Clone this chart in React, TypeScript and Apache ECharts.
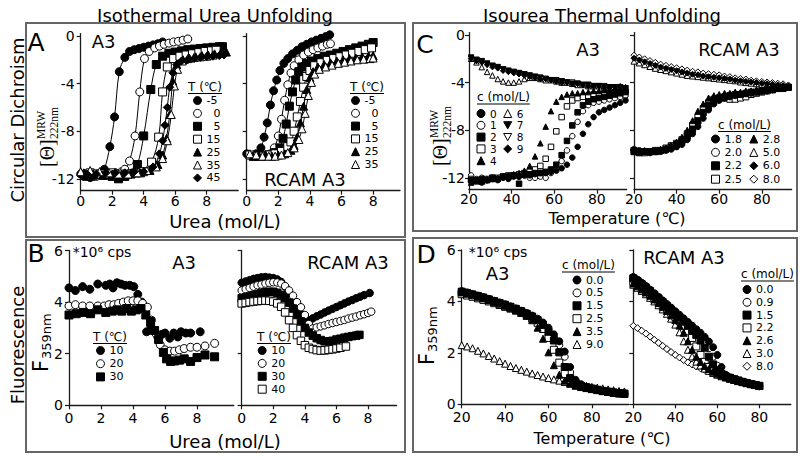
import React, { useEffect, useRef } from "react";
import * as echarts from "echarts";

const FONT = "'DejaVu Sans', Verdana, sans-serif";
const SERIF = "'Liberation Serif', 'DejaVu Serif', serif";

// ---------------- Panel A: CD vs urea (x = urea mol/L, y = [Θ]) ----------------
const a3T_m5 = [[0,-11.6],[0.2,-11.8],[0.4,-11.8],[0.6,-11.9],[0.8,-11.8],[1.0,-11.7],[1.2,-11.7],[1.5,-11.2],[1.85,-9.3],[2.15,-6.8],[2.45,-3.0],[2.8,-1.8],[3.1,-1.3],[3.4,-1.15],[3.7,-1.05],[4.0,-0.95],[4.3,-0.85],[4.6,-0.75],[4.9,-0.65],[5.2,-0.5]];
const a3T_0 = [[0.2,-11.6],[0.6,-11.7],[1.0,-11.8],[1.4,-11.7],[1.8,-11.6],[2.2,-11.5],[2.6,-11.4],[2.8,-11.2],[3.1,-10.5],[3.45,-8.4],[3.75,-4.7],[4.05,-1.9],[4.35,-1.3],[4.7,-1.0],[5.0,-0.85],[5.3,-0.7],[5.6,-0.6],[5.9,-0.5],[6.2,-0.45],[6.5,-0.35],[6.8,-0.25]];
const a3T_5 = [[0.4,-11.6],[0.8,-11.7],[1.2,-11.6],[1.6,-11.7],[2.0,-11.8],[2.4,-12.0],[2.8,-11.8],[3.2,-11.6],[3.6,-10.8],[4.0,-8.4],[4.45,-4.5],[4.8,-2.4],[5.2,-1.7],[5.6,-1.45],[6.0,-1.35],[6.4,-1.25],[6.8,-1.15],[7.2,-1.1],[7.6,-1.05],[8.0,-1.0],[8.4,-0.95],[8.8,-0.9],[9.0,-0.9]];
const a3T_15 = [[0.6,-11.5],[1.0,-11.6],[1.5,-11.6],[2.0,-11.5],[2.5,-11.6],[3.0,-11.6],[3.5,-11.5],[4.0,-11.4],[4.5,-10.6],[4.95,-8.5],[5.2,-4.7],[5.5,-2.6],[5.9,-1.9],[6.3,-1.7],[6.7,-1.6],[7.1,-1.5],[7.5,-1.4],[7.9,-1.3],[8.3,-1.25],[8.6,-1.2]];
const a3T_25 = [[0.2,-11.5],[0.8,-11.6],[1.4,-11.7],[2.0,-11.6],[2.6,-11.6],[3.2,-11.5],[3.8,-11.5],[4.4,-11.3],[4.9,-10.8],[5.2,-10.0],[5.45,-8.6],[5.65,-6.6],[5.85,-3.8],[6.1,-2.4],[6.5,-2.0],[6.9,-1.85],[7.3,-1.75],[7.7,-1.65],[8.1,-1.6],[8.5,-1.5],[8.9,-1.4],[9.25,-1.35]];
const a3T_35 = [[0.0,-11.4],[0.6,-11.3],[1.2,-11.4],[1.8,-11.5],[2.4,-11.6],[3.0,-11.6],[3.6,-11.5],[4.2,-11.3],[4.8,-11.0],[5.2,-10.3],[5.5,-8.8],[5.75,-6.6],[5.95,-4.2],[6.15,-2.8],[6.45,-2.1],[6.8,-1.9],[7.2,-1.8],[7.6,-1.75],[8.0,-1.7],[8.4,-1.6]];
const a3T_45 = [[0.4,-11.6],[1.0,-11.6],[1.6,-11.5],[2.2,-11.5],[2.8,-11.5],[3.4,-11.4],[4.0,-11.4],[4.6,-11.0],[5.0,-9.9],[5.2,-8.8],[5.35,-7.5],[5.5,-6.0],[5.65,-4.3],[5.85,-3.1],[6.1,-2.4],[6.4,-2.1],[6.8,-2.0],[7.2,-1.9],[7.6,-1.8],[8.0,-1.75],[8.4,-1.7],[8.8,-1.65],[9.1,-1.6]];

const rcT_m5 = [[0.0,-9.9],[0.3,-10.1],[0.6,-9.9],[0.9,-9.4],[1.1,-8.5],[1.3,-7.3],[1.5,-5.8],[1.7,-4.6],[1.9,-3.7],[2.1,-2.9],[2.35,-2.3],[2.6,-1.9],[2.9,-1.5],[3.2,-1.2],[3.5,-0.9],[3.8,-0.7],[4.1,-0.5],[4.4,-0.35],[4.7,-0.2],[5.0,-0.05],[5.25,0.1]];
const rcT_0 = [[0.6,-10.1],[0.9,-10.1],[1.2,-10.0],[1.5,-9.9],[1.75,-9.4],[2.0,-8.4],[2.2,-7.0],[2.4,-5.4],[2.6,-4.1],[2.8,-3.1],[3.0,-2.5],[3.3,-2.0],[3.6,-1.6],[3.9,-1.35],[4.2,-1.15],[4.5,-1.0],[4.8,-0.85],[5.1,-0.7],[5.3,-0.65]];
const rcT_5 = [[1.0,-10.1],[1.4,-10.0],[1.8,-9.8],[2.1,-9.4],[2.3,-8.6],[2.5,-7.4],[2.7,-5.9],[2.9,-4.7],[3.1,-3.7],[3.3,-3.0],[3.5,-2.6],[3.8,-2.3],[4.1,-2.1],[4.5,-1.9],[4.9,-1.7],[5.3,-1.6],[5.7,-1.45],[6.1,-1.3],[6.5,-1.15],[6.9,-1.0],[7.3,-0.85],[7.7,-0.7],[8.0,-0.55]];
const rcT_15 = [[0.2,-10.0],[0.6,-10.1],[1.0,-10.1],[1.4,-10.0],[1.8,-9.9],[2.2,-9.7],[2.6,-9.3],[2.8,-8.9],[3.0,-8.0],[3.2,-6.8],[3.4,-5.5],[3.6,-4.3],[3.8,-3.4],[4.0,-2.9],[4.3,-2.5],[4.7,-2.25],[5.1,-2.05],[5.5,-1.9],[5.9,-1.75],[6.3,-1.6],[6.7,-1.45],[7.1,-1.3],[7.5,-1.15],[7.9,-1.0]];
const rcT_25 = [[0.4,-10.1],[0.8,-10.1],[1.2,-10.0],[1.6,-10.1],[2.0,-10.0],[2.4,-9.9],[2.8,-9.6],[3.0,-9.2],[3.2,-8.5],[3.4,-7.3],[3.6,-5.9],[3.8,-4.5],[4.0,-3.5],[4.2,-3.0],[4.5,-2.6],[4.9,-2.4],[5.3,-2.25],[5.7,-2.1],[6.1,-2.0],[6.5,-1.9],[6.9,-1.85],[7.3,-1.75],[7.7,-1.7],[8.0,-1.65]];
const rcT_35 = [[0.2,-9.9],[0.6,-10.0],[1.0,-10.1],[1.4,-10.1],[1.8,-10.1],[2.2,-10.0],[2.6,-9.8],[3.0,-9.4],[3.3,-8.7],[3.5,-7.8],[3.7,-6.5],[3.9,-5.0],[4.1,-3.9],[4.3,-3.2],[4.6,-2.8],[5.0,-2.6],[5.4,-2.45],[5.8,-2.3],[6.2,-2.2],[6.6,-2.1],[7.0,-2.0],[7.4,-1.95],[7.8,-1.9],[8.0,-1.85]];

// ---------------- Panel B: fluorescence vs urea ----------------
const fA3_10 = [[0,4.55],[0.4,4.45],[0.85,4.6],[1.3,4.5],[1.8,4.7],[2.3,4.65],[2.55,4.7],[2.75,4.55],[3.0,4.75],[3.25,4.7],[3.5,4.65],[3.8,4.65],[4.05,4.6],[4.3,4.3],[4.55,4.0],[4.85,2.85],[5.1,3.1],[5.35,2.85],[5.55,2.65],[5.8,2.75],[6.0,2.8],[6.3,2.6],[6.55,2.8],[6.8,2.65],[7.0,2.85],[7.3,2.8],[7.6,2.8],[8.2,2.85]];
const fA3_20 = [[0,3.85],[0.4,3.9],[0.85,3.85],[1.3,3.85],[1.8,3.85],[2.2,3.85],[2.5,3.9],[2.8,3.9],[3.1,3.95],[3.4,4.0],[3.7,4.05],[4.0,4.05],[4.3,4.05],[4.6,3.95],[4.9,3.8],[5.15,3.3],[5.4,2.8],[5.7,2.35],[6.0,2.15],[6.3,2.1],[6.6,2.1],[6.9,2.15],[7.2,2.2],[7.6,2.25],[8.0,2.25],[8.5,2.3],[9.1,2.4]];
const fA3_30 = [[0,3.5],[0.45,3.55],[0.9,3.6],[1.35,3.55],[1.8,3.7],[2.3,3.6],[2.7,3.65],[3.0,3.7],[3.3,3.65],[3.6,3.75],[3.9,3.65],[4.2,3.7],[4.5,3.75],[4.8,3.5],[5.1,3.25],[5.35,2.9],[5.6,2.55],[5.9,2.05],[6.1,1.8],[6.35,1.7],[6.6,1.72],[6.9,1.75],[7.2,1.8],[7.6,1.7],[8.0,1.85],[8.5,1.95],[9.1,1.88]];
const fRC_10 = [[0,4.75],[0.25,4.8],[0.5,4.85],[0.75,4.9],[1.0,4.93],[1.25,4.96],[1.5,4.97],[1.75,4.95],[2.0,4.93],[2.25,4.88],[2.5,4.78],[2.75,4.6],[3.0,4.35],[3.25,4.05],[3.5,3.8],[3.75,3.55],[4.0,3.4],[4.25,3.3],[4.5,3.37],[4.75,3.45],[5.0,3.52],[5.25,3.6],[5.5,3.67],[5.75,3.74],[6.0,3.81],[6.25,3.88],[6.5,3.95],[6.75,4.02],[7.0,4.08],[7.25,4.15],[7.5,4.21],[7.75,4.27],[8.1,4.35]];
const fRC_20 = [[0,4.45],[0.25,4.5],[0.5,4.55],[0.75,4.6],[1.0,4.65],[1.25,4.68],[1.5,4.72],[1.75,4.75],[2.0,4.77],[2.25,4.76],[2.5,4.72],[2.75,4.62],[3.0,4.45],[3.25,4.25],[3.5,4.0],[3.75,3.8],[4.0,3.5],[4.25,3.15],[4.5,2.98],[4.75,3.02],[5.0,3.06],[5.25,3.1],[5.5,3.15],[5.75,3.19],[6.0,3.23],[6.25,3.27],[6.5,3.31],[6.75,3.36],[7.0,3.4],[7.25,3.44],[7.5,3.49],[7.75,3.53],[8.0,3.58],[8.2,3.63]];
const fRC_30 = [[0,4.15],[0.25,4.18],[0.5,4.22],[0.75,4.26],[1.0,4.3],[1.25,4.35],[1.5,4.38],[1.75,4.4],[2.0,4.4],[2.25,4.36],[2.5,4.28],[2.75,4.15],[3.0,3.98],[3.25,3.75],[3.5,3.5],[3.75,3.25],[4.0,3.0],[4.25,2.82],[4.5,2.7],[4.75,2.6],[5.0,2.53],[5.25,2.48],[5.5,2.48],[5.75,2.5],[6.0,2.55],[6.25,2.58],[6.5,2.62],[6.75,2.65],[7.0,2.68],[7.25,2.7],[7.45,2.73]];
const fRC_40 = [[0,3.95],[0.25,3.97],[0.5,4.0],[0.75,4.02],[1.0,4.04],[1.25,4.05],[1.5,4.06],[1.75,4.05],[2.0,4.02],[2.25,3.95],[2.5,3.82],[2.75,3.6],[3.0,3.3],[3.25,3.0],[3.5,2.72],[3.75,2.5],[4.0,2.33],[4.25,2.23],[4.5,2.18],[4.75,2.14],[5.0,2.12],[5.25,2.13],[5.5,2.15],[5.75,2.17],[6.0,2.2],[6.25,2.23],[6.6,2.28]];

// ---------------- Panel C: CD vs temperature ----------------
const tempC_A3 = [21,23.5,26,28.5,31,33.5,36,38.5,41,43.5,46,48.5,51,53.5,56,58.5,61,63.5,66,68.5,71,73.5,76,78.5,81,83.5,86,88.5,91,93.5];
const cdA3_c0 = [-12.3,-12.2,-12.4,-12.2,-12.1,-12.2,-12.0,-12.1,-11.9,-11.9,-11.8,-11.8,-11.7,-11.6,-11.6,-11.5,-11.4,-11.2,-10.9,-10.3,-9.4,-8.3,-7.5,-6.9,-6.5,-6.3,-6.1,-5.9,-5.7,-5.5];
const cdA3_c1 = [-11.8,-12.1,-12.0,-12.2,-12.0,-12.1,-11.9,-12.0,-11.8,-11.9,-11.8,-12.0,-12.0,-11.9,-12.0,-11.6,-11.2,-10.6,-9.7,-8.5,-7.3,-6.4,-5.9,-5.7,-5.6,-5.5,-5.4,-5.3,-5.2,-5.1];
const cdA3_c2 = [-12.2,-12.3,-12.1,-12.2,-12.0,-12.1,-11.9,-11.9,-11.8,-12.5,-11.7,-11.7,-11.6,-11.6,-11.5,-11.3,-10.9,-10.1,-8.9,-7.6,-6.5,-5.9,-5.6,-5.4,-5.3,-5.2,-5.1,-5.0,-4.9,-4.8];
const cdA3_c3 = [-12.1,-12.2,-12.3,-12.1,-12.0,-12.0,-11.9,-11.8,-11.8,-11.7,-11.6,-11.5,-11.3,-11.0,-10.4,-9.4,-8.1,-6.9,-6.0,-5.5,-5.3,-5.2,-5.1,-5.0,-5.0,-4.9,-4.9,-4.8,-4.7,-4.7];
const cdA3_c4 = [-12.4,-12.2,-12.3,-12.1,-12.1,-12.0,-11.9,-11.8,-11.7,-11.6,-11.4,-11.0,-10.2,-9.1,-7.7,-6.4,-5.6,-5.2,-5.0,-4.9,-4.9,-4.8,-4.8,-4.7,-4.7,-4.6,-4.6,-4.5,-4.5,-4.4];
const cdA3_c6 = [-2.0,-2.3,-2.7,-3.1,-3.4,-3.7,-3.9,-4.0,-4.0,-3.9,-3.7,-3.6,-3.6,-3.7,-3.8,-3.8,-3.9,-4.0,-4.0,-4.1,-4.2,-4.2,-4.3,-4.3,-4.3,-4.4,-4.4,-4.5,-4.5,-4.5];
const cdA3_c7 = [-1.9,-2.1,-2.2,-2.4,-2.6,-2.7,-2.9,-3.0,-3.1,-3.2,-3.3,-3.4,-3.5,-3.6,-3.7,-3.8,-3.9,-3.9,-4.0,-4.1,-4.1,-4.2,-4.2,-4.3,-4.3,-4.4,-4.4,-4.4,-4.5,-4.5];
const cdA3_c8 = [-2.0,-2.1,-2.3,-2.5,-2.6,-2.8,-2.9,-3.1,-3.2,-3.3,-3.4,-3.5,-3.6,-3.6,-3.7,-3.8,-3.8,-3.9,-4.0,-4.0,-4.1,-4.2,-4.2,-4.3,-4.3,-4.3,-4.4,-4.4,-4.4,-4.5];
const cdA3_c9 = [-2.0,-2.2,-2.3,-2.5,-2.7,-2.8,-3.0,-3.1,-3.2,-3.3,-3.4,-3.5,-3.6,-3.7,-3.7,-3.8,-3.9,-4.0,-4.0,-4.1,-4.1,-4.2,-4.3,-4.3,-4.3,-4.4,-4.4,-4.4,-4.3,-4.4];

const tempC_RC = [20,22.5,25,27.5,30,32.5,35,37.5,40,42.5,45,47.5,50,52.5,55,57.5,60,62.5,65,67.5,70,72.5,75,77.5,80,82.5,85,87.5,90,92.5];
const cdRC_18 = [-9.7,-9.8,-9.8,-9.9,-9.8,-9.8,-9.7,-9.6,-9.4,-9.2,-8.8,-8.3,-7.7,-7.0,-6.3,-5.8,-5.5,-5.3,-5.2,-5.1,-5.0,-4.95,-4.9,-4.8,-4.75,-4.7,-4.6,-4.5,-4.45,-4.4];
const cdRC_20 = [-9.6,-9.7,-9.8,-9.8,-9.7,-9.7,-9.6,-9.5,-9.3,-9.0,-8.6,-8.1,-7.4,-6.7,-6.1,-5.7,-5.4,-5.3,-5.2,-5.2,-5.1,-5.0,-4.9,-4.8,-4.7,-4.7,-4.6,-4.5,-4.4,-4.4];
const cdRC_22 = [-9.8,-9.9,-9.8,-9.8,-9.8,-9.7,-9.6,-9.4,-9.2,-8.9,-8.5,-7.9,-7.2,-6.5,-5.9,-5.5,-5.3,-5.2,-5.1,-5.0,-5.0,-4.9,-4.8,-4.8,-4.7,-4.6,-4.6,-4.5,-4.4,-4.4];
const cdRC_25 = [-9.7,-9.8,-9.9,-9.8,-9.7,-9.7,-9.5,-9.3,-9.1,-8.8,-8.3,-7.6,-6.9,-6.2,-5.7,-5.4,-5.3,-5.3,-5.4,-5.4,-5.3,-5.2,-5.0,-4.9,-4.8,-4.7,-4.6,-4.5,-4.5,-4.4];
const cdRC_28 = [-9.8,-9.8,-9.7,-9.8,-9.8,-9.6,-9.5,-9.3,-9.0,-8.6,-8.0,-7.2,-6.4,-5.8,-5.3,-5.1,-5.0,-4.9,-4.9,-4.8,-4.8,-4.7,-4.7,-4.6,-4.6,-4.5,-4.5,-4.4,-4.4,-4.3];
const cdRC_50 = [-2.2,-2.35,-2.5,-2.65,-2.8,-2.9,-3.0,-3.1,-3.2,-3.3,-3.4,-3.45,-3.5,-3.55,-3.6,-3.65,-3.7,-3.75,-3.8,-3.85,-3.95,-4.0,-4.05,-4.1,-4.15,-4.2,-4.2,-4.25,-4.3,-4.3];
const cdRC_60 = [-1.95,-2.1,-2.25,-2.4,-2.55,-2.7,-2.8,-2.9,-3.0,-3.1,-3.2,-3.3,-3.35,-3.45,-3.5,-3.55,-3.6,-3.65,-3.7,-3.8,-3.85,-3.9,-3.95,-4.0,-4.05,-4.1,-4.15,-4.2,-4.25,-4.3];
const cdRC_80 = [-1.7,-1.85,-2.0,-2.15,-2.3,-2.45,-2.55,-2.65,-2.75,-2.85,-2.95,-3.05,-3.1,-3.2,-3.25,-3.3,-3.35,-3.45,-3.5,-3.6,-3.65,-3.7,-3.8,-3.85,-3.9,-3.95,-4.0,-4.05,-4.1,-4.2];

// ---------------- Panel D: fluorescence vs temperature ----------------
const tempD_A3 = [20,22.5,25,27.5,30,32.5,35,37.5,40,42.5,45,47.5,50,52.5,55,57.5,60,62.5,65,67.5,70,72.5,75,77.5,80,82.5,85,87.5,90,92.5,95];
const flA3_00 = [4.40,4.35,4.29,4.23,4.17,4.10,4.03,3.96,3.89,3.81,3.73,3.64,3.55,3.45,3.33,3.18,2.98,2.72,2.45,2.05,1.45,0.95,0.78,0.68,0.62,0.57,0.53,0.49,0.45,0.42,0.40];
const flA3_05 = [4.30,4.25,4.20,4.14,4.08,4.02,3.95,3.88,3.81,3.74,3.66,3.58,3.49,3.39,3.27,3.11,2.90,2.62,2.30,1.85,1.25,0.88,0.75,0.67,0.61,0.57,0.53,0.50,0.47,0.44,0.42];
const flA3_15 = [4.38,4.33,4.27,4.21,4.15,4.08,4.01,3.94,3.87,3.79,3.71,3.62,3.52,3.41,3.27,3.08,2.82,2.48,2.02,1.45,1.02,0.82,0.72,0.66,0.61,0.56,0.52,0.48,0.45,0.42,0.40];
const flA3_25 = [4.28,4.23,4.18,4.12,4.06,4.00,3.93,3.86,3.79,3.72,3.64,3.55,3.45,3.33,3.17,2.93,2.58,2.12,1.62,1.18,0.92,0.78,0.70,0.65,0.60,0.56,0.52,0.49,0.46,0.44,0.42];
const flA3_35 = [4.35,4.30,4.24,4.18,4.12,4.05,3.98,3.91,3.83,3.75,3.66,3.56,3.44,3.27,2.98,2.55,2.02,1.52,1.15,0.92,0.80,0.72,0.67,0.63,0.59,0.55,0.51,0.48,0.45,0.43,0.41];
const flA3_90 = [2.30,2.25,2.18,2.08,1.98,1.88,1.78,1.68,1.58,1.49,1.41,1.34,1.27,1.20,1.14,1.08,1.02,0.97,0.92,0.87,0.82,0.78,0.75,0.72,0.68,0.65,0.62,0.58,0.55,0.52,0.50];

const tempD_RC = [20,22,24,26,28,30,32,34,36,38,40,42,44,46,48,50,52,54,56,58,60,62,64,66,68,70,72,74,76,78,80];
const flRC_00 = [4.95,4.85,4.73,4.60,4.46,4.32,4.18,4.04,3.90,3.76,3.62,3.48,3.34,3.20,3.06,2.92,2.78,2.62,2.44,2.22,1.92,1.45,1.15,1.05,0.98,0.92,0.87,0.83,0.78,0.74,0.70];
const flRC_09 = [4.85,4.75,4.63,4.50,4.37,4.23,4.09,3.95,3.81,3.67,3.53,3.39,3.25,3.10,2.95,2.79,2.62,2.42,2.18,1.85,1.50,1.25,1.10,1.03,0.97,0.92,0.87,0.83,0.79,0.75,0.71];
const flRC_15 = [4.90,4.79,4.67,4.54,4.40,4.26,4.12,3.97,3.82,3.67,3.52,3.37,3.21,3.05,2.88,2.70,2.48,2.20,1.85,1.55,1.32,1.18,1.09,1.03,0.97,0.92,0.87,0.83,0.79,0.75,0.71];
const flRC_22 = [4.75,4.64,4.52,4.40,4.27,4.14,4.00,3.86,3.71,3.56,3.40,3.23,3.05,2.84,2.58,2.25,1.92,1.65,1.45,1.32,1.22,1.14,1.08,1.02,0.97,0.92,0.87,0.83,0.79,0.75,0.72];
const flRC_26 = [4.70,4.59,4.47,4.35,4.22,4.08,3.94,3.79,3.63,3.46,3.28,3.06,2.78,2.45,2.12,1.85,1.65,1.49,1.37,1.27,1.19,1.12,1.06,1.01,0.96,0.91,0.87,0.83,0.79,0.75,0.72];
const flRC_30 = [4.65,4.53,4.41,4.28,4.14,4.00,3.85,3.69,3.52,3.33,3.10,2.80,2.45,2.12,1.86,1.66,1.51,1.39,1.30,1.22,1.15,1.09,1.04,0.99,0.95,0.90,0.86,0.82,0.78,0.75,0.72];
const flRC_80 = [3.05,2.96,2.86,2.75,2.63,2.51,2.39,2.27,2.15,2.03,1.92,1.82,1.72,1.63,1.55,1.47,1.40,1.34,1.28,1.23,1.18,1.13,1.08,1.03,0.98,0.94,0.89,0.85,0.81,0.78,0.75];

// ---------------- tick values ----------------
const ureaTicks = [0, 2, 4, 6, 8];
const tempTicks = [20, 40, 60, 80];
const cdTicks = [-12, -8, -4, 0];
const flTicks = [0, 2, 4, 6];

const zip = (xs: number[], ys: number[]) => xs.map((x, i) => [x, ys[i]]);

type SymKey = "fc" | "oc" | "fs" | "os" | "ft" | "ot" | "fd" | "od" | "fv" | "ov";
const DOWN = "path://M0,0L10,0L5,9Z";
const SYMS: Record<SymKey, { symbol: string; fill: boolean; rotate: number; icon: string }> = {
  fc: { symbol: "circle", fill: true, rotate: 0, icon: "circle" },
  oc: { symbol: "circle", fill: false, rotate: 0, icon: "circle" },
  fs: { symbol: "rect", fill: true, rotate: 0, icon: "rect" },
  os: { symbol: "rect", fill: false, rotate: 0, icon: "rect" },
  ft: { symbol: "triangle", fill: true, rotate: 0, icon: "triangle" },
  ot: { symbol: "triangle", fill: false, rotate: 0, icon: "triangle" },
  fd: { symbol: "diamond", fill: true, rotate: 0, icon: "diamond" },
  od: { symbol: "diamond", fill: false, rotate: 0, icon: "diamond" },
  fv: { symbol: "triangle", fill: true, rotate: 180, icon: DOWN },
  ov: { symbol: "triangle", fill: false, rotate: 180, icon: DOWN },
};

type Spec = [string, SymKey, number[][]];

// grid index: 0 A-A3, 1 A-RCAM, 2 B-A3, 3 B-RCAM, 4 C-A3, 5 C-RCAM, 6 D-A3, 7 D-RCAM
const panelA1: Spec[] = [["-5", "fc", a3T_m5], ["\u20070", "oc", a3T_0], ["\u20075", "fs", a3T_5], ["15", "os", a3T_15], ["25", "ft", a3T_25], ["35", "ot", a3T_35], ["45", "fd", a3T_45]];
const panelA2: Spec[] = [["-5", "fc", rcT_m5], ["\u20070", "oc", rcT_0], ["\u20075", "fs", rcT_5], ["15", "os", rcT_15], ["25", "ft", rcT_25], ["35", "ot", rcT_35]];
const panelB1: Spec[] = [["10", "fc", fA3_10], ["20", "oc", fA3_20], ["30", "fs", fA3_30]];
const panelB2: Spec[] = [["10", "fc", fRC_10], ["20", "oc", fRC_20], ["30", "fs", fRC_30], ["40", "os", fRC_40]];
const panelC1: Spec[] = [
  ["6", "ot", zip(tempC_A3, cdA3_c6)], ["8", "ov", zip(tempC_A3, cdA3_c8)], ["7", "fv", zip(tempC_A3, cdA3_c7)], ["9", "fd", zip(tempC_A3, cdA3_c9)],
  ["1", "oc", zip(tempC_A3, cdA3_c1)], ["3", "os", zip(tempC_A3, cdA3_c3)], ["0", "fc", zip(tempC_A3, cdA3_c0)], ["2", "fs", zip(tempC_A3, cdA3_c2)], ["4", "ft", zip(tempC_A3, cdA3_c4)],
];
const panelC2: Spec[] = [
  ["8.0", "od", zip(tempC_RC, cdRC_80)], ["5.0", "ot", zip(tempC_RC, cdRC_50)], ["6.0", "fd", zip(tempC_RC, cdRC_60)],
  ["2.0", "oc", zip(tempC_RC, cdRC_20)], ["2.5", "os", zip(tempC_RC, cdRC_25)], ["1.8", "fc", zip(tempC_RC, cdRC_18)], ["2.2", "fs", zip(tempC_RC, cdRC_22)], ["2.8", "ft", zip(tempC_RC, cdRC_28)],
];
const panelD1: Spec[] = [
  ["9.0", "ot", zip(tempD_A3, flA3_90)], ["0.5", "oc", zip(tempD_A3, flA3_05)], ["2.5", "os", zip(tempD_A3, flA3_25)],
  ["3.5", "ft", zip(tempD_A3, flA3_35)], ["1.5", "fs", zip(tempD_A3, flA3_15)], ["0.0", "fc", zip(tempD_A3, flA3_00)],
];
const panelD2: Spec[] = [
  ["8.0", "od", zip(tempD_RC, flRC_80)], ["3.0", "ot", zip(tempD_RC, flRC_30)], ["2.2", "os", zip(tempD_RC, flRC_22)], ["0.9", "oc", zip(tempD_RC, flRC_09)],
  ["2.6", "ft", zip(tempD_RC, flRC_26)], ["1.5", "fs", zip(tempD_RC, flRC_15)], ["0.0", "fc", zip(tempD_RC, flRC_00)],
];

function measure(text: string, size: number, family = FONT) {
  const c = document.createElement("canvas").getContext("2d");
  if (!c) return text.length * size * 0.6;
  c.font = `${size}px ${family}`;
  return c.measureText(text).width;
}

function buildOption() {
  const grids = [
    { left: 80.7, top: 33.6, width: 157.5, height: 157.1 },
    { left: 246.7, top: 33.6, width: 153.3, height: 157.1 },
    { left: 69, top: 250.5, width: 164.8, height: 154.8 },
    { left: 241.7, top: 250.5, width: 154.8, height: 154.8 },
    { left: 469, top: 32.6, width: 157.6, height: 157.1 },
    { left: 634, top: 32.6, width: 157.6, height: 157.1 },
    { left: 461.7, top: 250, width: 167, height: 154.3 },
    { left: 633.3, top: 250, width: 157.5, height: 154.3 },
  ];
  const xr = [[0, 10], [0, 9.7], [0, 10.3], [0, 9.8], [20, 94], [20, 94], [20, 97], [20, 95]];
  const xMargin = [3, 3, 6, 6, 2, 2, 6, 6];
  const axisLine = { onZero: false, lineStyle: { color: "#1a1a1a", width: 1.3 } };
  const xAxis = grids.map((_, i) => {
    const ticks = i < 4 ? ureaTicks : tempTicks;
    return {
      type: "value", gridIndex: i, min: xr[i][0], max: xr[i][1],
      splitLine: { show: false }, axisLine,
      axisTick: { show: true, inside: false, length: 4, customValues: ticks, lineStyle: { color: "#1a1a1a", width: 1.2 } },
      axisLabel: { customValues: ticks, fontSize: 14, color: "#000", fontFamily: FONT, margin: xMargin[i] },
    };
  });
  const yAxis = grids.map((_, i) => {
    const cd = i === 0 || i === 1 || i === 4 || i === 5;
    const ticks = cd ? cdTicks : flTicks;
    return {
      type: "value", gridIndex: i, min: cd ? -13 : 0, max: cd ? 0.2 : 6,
      splitLine: { show: false }, axisLine,
      axisTick: { show: true, inside: false, length: 4, customValues: ticks, lineStyle: { color: "#1a1a1a", width: 1.2 } },
      axisLabel: { show: i % 2 === 0, customValues: ticks, fontSize: 14, color: "#000", fontFamily: FONT, margin: i === 4 ? 4 : 6 },
    };
  });

  const series: any[] = [];
  const add = (prefix: string, grid: number, specs: Spec[], size: number, fit = false) => {
    specs.forEach(([label, key, data]) => {
      const s = SYMS[key];
      if (fit) {
        series.push({
          type: "line", name: prefix + "fit|" + label, xAxisIndex: grid, yAxisIndex: grid, data,
          showSymbol: false, symbol: "none", smooth: 0.35, silent: true, z: 2,
          lineStyle: { color: "#000", width: 1 },
        });
      }
      series.push({
        type: "scatter", name: prefix + "|" + label, xAxisIndex: grid, yAxisIndex: grid, data,
        symbol: s.symbol, symbolSize: size, symbolRotate: s.rotate, z: 3,
        itemStyle: { color: s.fill ? "#000" : "#fff", borderColor: "#000", borderWidth: 1, opacity: 1 },
        emphasis: { disabled: true },
      });
    });
  };
  add("a1", 0, panelA1, 8, true);
  add("a2", 1, panelA2, 8, true);
  add("b1", 2, panelB1, 8);
  add("b2", 3, panelB2, 7.5);
  add("c1", 4, panelC1, 5.5);
  add("c2", 5, panelC2, 6);
  add("d1", 6, panelD1, 7);
  add("d2", 7, panelD2, 7);

  const mkLegend = (prefix: string, items: [string, SymKey][], left: number, firstRow: number, step: number, fs = 11) => {
    const lh = Math.min(11, step);
    return {
      show: true, orient: "vertical", left, top: firstRow - lh / 2, padding: 0,
      itemGap: step - lh, itemWidth: 8, itemHeight: 8, selectedMode: false,
      data: items.map(([n, k]) => ({ name: prefix + "|" + n, icon: SYMS[k].icon })),
      formatter: (name: string) => name.split("|")[1],
      textStyle: { fontSize: fs, lineHeight: lh, fontFamily: FONT, color: "#000" },
      itemStyle: { borderWidth: 1 },
    };
  };
  const legend = [
    mkLegend("a1", [["-5", "fc"], ["\u20070", "oc"], ["\u20075", "fs"], ["15", "os"], ["25", "ft"], ["35", "ot"], ["45", "fd"]], 193, 100.5, 12.9),
    mkLegend("a2", [["-5", "fc"], ["\u20070", "oc"], ["\u20075", "fs"], ["15", "os"], ["25", "ft"], ["35", "ot"]], 351, 100.5, 12.8),
    mkLegend("b1", [["10", "fc"], ["20", "oc"], ["30", "fs"]], 96, 350.5, 13.2),
    mkLegend("b2", [["10", "fc"], ["20", "oc"], ["30", "fs"], ["40", "os"]], 257.7, 350.5, 12.9),
    mkLegend("c1", [["0", "fc"], ["1", "oc"], ["2", "fs"], ["3", "os"], ["4", "ft"]], 476.5, 113.5, 11.8, 10.5),
    mkLegend("c1", [["6", "ot"], ["7", "fv"], ["8", "ov"], ["9", "fd"]], 503.2, 113.5, 11.8, 10.5),
    mkLegend("c2", [["1.8", "fc"], ["2.0", "oc"], ["2.2", "fs"], ["2.5", "os"]], 711, 139, 13.4),
    mkLegend("c2", [["2.8", "ft"], ["5.0", "ot"], ["6.0", "fd"], ["8.0", "od"]], 749.3, 139, 13.4),
    mkLegend("d1", [["0.0", "fc"], ["0.5", "oc"], ["1.5", "fs"], ["2.5", "os"], ["3.5", "ft"], ["9.0", "ot"]], 572.5, 280, 12.9),
    mkLegend("d2", [["0.0", "fc"], ["0.9", "oc"], ["1.5", "fs"], ["2.2", "os"], ["2.6", "ft"], ["3.0", "ot"], ["8.0", "od"]], 742.5, 289.5, 12.8),
  ];

  const txt = (text: string, x: number, y: number, size: number, o: any = {}) => ({
    type: "text", x, y, rotation: o.rotation || 0, silent: true,
    style: {
      text, fontSize: size, fontFamily: o.family || FONT, fill: "#000",
      align: o.align || "center", verticalAlign: "middle",
      textAlign: o.align || "center", textVerticalAlign: "middle",
    },
  });
  const box = (x: number, y: number, w: number, h: number) => ({
    type: "rect", silent: true, shape: { x, y, width: w, height: h },
    style: { fill: "none", stroke: "#666", lineWidth: 2 },
  });
  const legTitle = (text: string, left: number, y: number) => {
    const w = measure(text, 12);
    return [
      txt(text, left, y, 12, { align: "left" }),
      { type: "line", silent: true, shape: { x1: left, y1: y + 7, x2: left + w, y2: y + 7 }, style: { stroke: "#000", lineWidth: 1 } },
    ];
  };
  const thetaLabel = (x: number, y: number) => ({
    type: "group", x, y, rotation: Math.PI / 2, silent: true,
    children: [
      txt("[\u0398]", 0, 0, 20, { align: "left", family: SERIF }),
      txt("MRW", 28, -6.5, 11.5, { align: "left", family: SERIF }),
      txt("222nm", 28, 6.5, 11.5, { align: "left", family: SERIF }),
    ],
  });
  const fLabel = (x: number, y: number) => ({
    type: "group", x, y, rotation: Math.PI / 2, silent: true,
    children: [
      txt("F", 0, 0, 21, { align: "left" }),
      txt("359nm", 13, 5, 13, { align: "left" }),
    ],
  });

  const graphic: any[] = [
    box(26, 23, 379, 214), box(26, 240, 379, 212), box(413, 23, 384, 208), box(413, 238, 384, 214),
    txt("Isothermal Urea Unfolding", 215, 15, 18),
    txt("Isourea Thermal Unfolding", 602, 15, 18),
    txt("Circular Dichroism", 17, 120, 18, { rotation: Math.PI / 2 }),
    txt("Fluorescence", 17, 345, 18, { rotation: Math.PI / 2 }),
    txt("A", 36, 42, 25), txt("B", 36, 253, 25), txt("C", 425, 44, 25), txt("D", 426, 254, 25),
    txt("Urea (mol/L)", 225, 221, 18), txt("Urea (mol/L)", 225, 441, 18),
    txt("Temperature (\u2103)", 617, 218, 16), txt("Temperature (\u2103)", 602, 438, 16),
    txt("A3", 103.5, 41, 18), txt("RCAM A3", 305, 179, 18),
    txt("A3", 184, 262, 18), txt("RCAM A3", 348, 262, 18),
    txt("A3", 588, 49, 18), txt("RCAM A3", 739, 49, 18),
    txt("A3", 497.5, 273, 18), txt("RCAM A3", 684, 257, 18),
    txt("*10\u2076 cps", 102, 252, 14), txt("*10\u2076 cps", 498, 252, 14),
    thetaLabel(47, 167), thetaLabel(440, 166),
    fLabel(41, 372), fLabel(427, 365),
    ...legTitle("T (\u2103)", 188, 86.5),
    ...legTitle("T (\u2103)", 350, 86.5),
    ...legTitle("T (\u2103)", 93, 336.5),
    ...legTitle("T (\u2103)", 257, 336.5),
    ...legTitle("c (mol/L)", 477, 97),
    ...legTitle("c (mol/L)", 718, 124.5),
    ...legTitle("c (mol/L)", 562, 265),
    ...legTitle("c (mol/L)", 741, 274),
  ];

  return {
    animation: false,
    backgroundColor: "#fff",
    textStyle: { fontFamily: FONT },
    grid: grids.map((g) => ({ ...g, containLabel: false })),
    xAxis, yAxis, series, legend, graphic,
  };
}

export default function App() {
  const ref = useRef<HTMLDivElement>(null);
  useEffect(() => {
    document.body.style.margin = "0";
    const chart = echarts.init(ref.current as HTMLDivElement, null, { renderer: "svg" });
    chart.setOption(buildOption() as any);
    return () => chart.dispose();
  }, []);
  return <div ref={ref} style={{ width: 800, height: 460, background: "#fff" }} />;
}
